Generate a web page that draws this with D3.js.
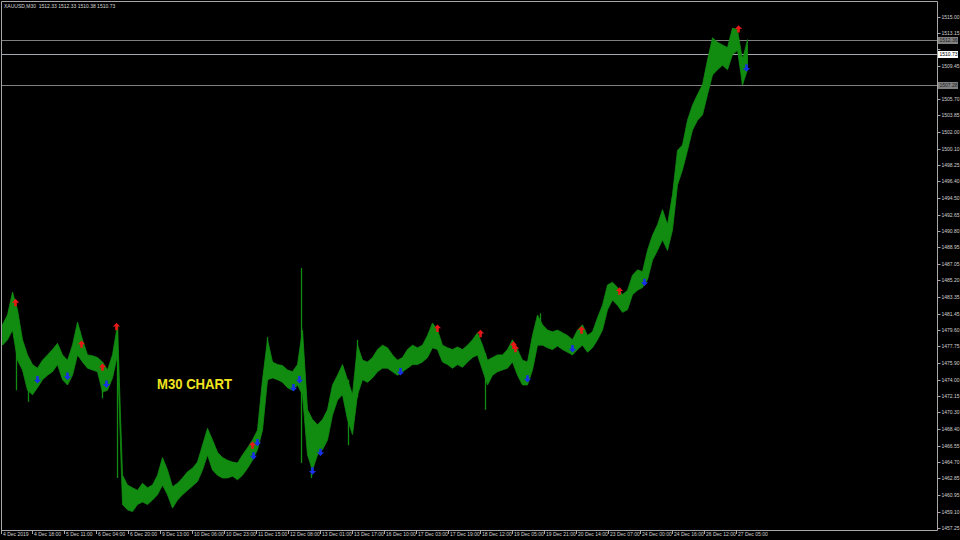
<!DOCTYPE html>
<html>
<head>
<meta charset="utf-8">
<script src="https://cdn.jsdelivr.net/npm/d3@7"></script>
<style>
  html, body { margin: 0; padding: 0; background: #000; }
  svg { display: block; }
</style>
</head>
<body>
<svg id="chart" width="960" height="540"></svg>
<script>
// price band, one sample every 5 bars (M30, 1 px per bar)
const highs = [
  1480.2,1481.3,1483.9,1481.9,1478.5,1476.8,1475.7,1475.3,1476.2,1476.8,
  1477.4,1478.1,1476.8,1476.2,1477.9,1480.5,1478.5,1476.8,1476.7,1476.5,
  1476.0,1475.1,1476.8,1480.2,1463.2,1462.1,1461.8,1461.5,1462.3,1461.8,
  1462.1,1463.2,1465.2,1463.8,1461.9,1462.3,1462.9,1463.6,1464.0,1464.7,
  1466.6,1468.5,1467.2,1465.8,1465.2,1464.9,1464.7,1464.6,1465.5,1466.3,
  1467.2,1468.3,1474.0,1478.5,1476.0,1475.7,1475.6,1475.1,1474.9,1475.7,
  1479.6,1470.6,1469.5,1468.9,1469.5,1470.6,1473.4,1474.5,1475.7,1474.0,
  1472.3,1477.9,1476.2,1476.0,1476.5,1477.4,1477.9,1477.6,1476.8,1476.2,
  1476.5,1477.4,1477.9,1477.6,1477.9,1479.0,1480.4,1479.6,1477.9,1477.6,
  1477.4,1477.7,1477.4,1477.9,1478.5,1479.3,1477.9,1476.2,1476.5,1476.8,
  1476.8,1477.4,1478.5,1477.4,1476.2,1476.0,1479.0,1481.3,1480.2,1479.6,
  1479.4,1479.6,1479.3,1479.0,1478.5,1479.6,1480.2,1479.0,1479.4,1481.0,
  1482.4,1484.7,1485.0,1484.4,1483.6,1484.1,1485.8,1486.4,1486.2,1488.6,
  1490.3,1491.5,1493.2,1491.5,1494.9,1499.9,1500.5,1503.3,1505.0,1506.2,
  1507.3,1510.1,1512.6,1512.1,1511.8,1511.5,1513.7,1513.5,1510.1,1512.4
];
const lows = [
  1477.9,1478.5,1479.6,1476.2,1475.1,1472.8,1472.3,1473.1,1474.0,1474.5,
  1474.9,1475.7,1474.0,1473.4,1474.5,1476.8,1476.0,1475.3,1475.1,1474.9,
  1472.6,1472.8,1474.2,1476.8,1459.9,1459.3,1459.1,1459.9,1460.2,1459.9,
  1460.4,1461.0,1462.1,1461.0,1459.5,1460.4,1461.0,1461.5,1462.0,1462.5,
  1463.8,1465.5,1463.8,1463.2,1462.9,1462.9,1463.1,1462.7,1463.2,1464.0,
  1464.9,1466.1,1468.3,1474.0,1474.2,1474.0,1473.7,1473.1,1472.8,1473.4,
  1472.3,1465.5,1463.8,1465.5,1466.1,1467.2,1470.0,1471.7,1472.3,1469.5,
  1467.8,1472.3,1474.0,1473.7,1474.2,1474.9,1475.3,1475.3,1474.9,1474.5,
  1474.9,1475.3,1475.7,1475.7,1476.0,1476.5,1477.6,1477.4,1476.0,1475.7,
  1475.3,1475.7,1475.4,1476.0,1476.5,1476.8,1475.1,1473.4,1474.5,1474.9,
  1475.1,1475.3,1476.0,1474.5,1473.4,1473.4,1475.1,1477.9,1477.9,1477.6,
  1477.4,1477.8,1477.4,1477.1,1476.8,1477.4,1477.9,1477.1,1477.6,1478.5,
  1479.6,1481.9,1483.0,1482.4,1481.6,1481.9,1483.6,1484.1,1484.4,1485.3,
  1487.5,1488.6,1489.8,1488.6,1490.9,1496.0,1497.7,1499.9,1502.2,1503.3,
  1503.9,1506.2,1508.4,1509.0,1509.5,1509.0,1510.7,1511.2,1507.3,1509.0
];
const sampleStep = 5;

// single long bars: [bar, high, low]
const wicks = [
  [14, 1481.9, 1472.8], [26, 1475.0, 1471.5], [100, 1476.0, 1471.9],
  [115, 1480.1, 1462.9], [265, 1478.8, 1474.0], [299, 1486.6, 1464.6],
  [309, 1468.0, 1462.9], [346, 1474.0, 1466.6], [355, 1478.5, 1472.0],
  [483, 1477.0, 1470.6], [538, 1481.5, 1478.0], [740, 1510.5, 1507.3]
];

// fractals: [bar, price]
const upFractals = [
  [13, 1482.7], [79, 1478.0], [100, 1475.4], [114, 1480.0], [250, 1466.6],
  [435, 1479.8], [478, 1479.2], [511, 1477.9], [513, 1477.5], [579, 1479.6],
  [617, 1484.0], [736, 1513.6]
];
const downFractals = [
  [35, 1474.0], [65, 1474.4], [104, 1473.5], [251, 1465.4], [255, 1466.9],
  [291, 1473.1], [297, 1474.0], [310, 1463.7], [318, 1465.8], [398, 1474.9],
  [525, 1474.1], [570, 1477.5], [642, 1485.0], [744, 1509.2]
];

// horizontal lines
const levels = [
  { price: 1512.36, label: "1512.36", bg: "#808080", fg: "#202020", line: "#808080" },
  { price: 1510.73, label: "1510.73", bg: "#ffffff", fg: "#000000", line: "#a0a8b0" },
  { price: 1507.28, label: "1507.28", bg: "#808080", fg: "#202020", line: "#808080" }
];

const priceTicks = [
  "1515.00","1513.15","1511.30","1509.45","1507.60","1505.70","1503.85","1502.00",
  "1500.10","1498.25","1496.40","1494.50","1492.65","1490.80","1488.95","1487.05",
  "1485.20","1483.35","1481.45","1479.60","1477.75","1475.90","1474.00","1472.15",
  "1470.30","1468.40","1466.55","1464.70","1462.85","1460.95","1459.10","1457.25"
];
const timeTicks = [
  "4 Dec 2019","4 Dec 18:00","5 Dec 11:00","6 Dec 04:00","6 Dec 20:00","9 Dec 13:00",
  "10 Dec 06:00","10 Dec 23:00","11 Dec 15:00","12 Dec 08:00","13 Dec 01:00","13 Dec 17:00",
  "16 Dec 10:00","17 Dec 03:00","17 Dec 19:00","18 Dec 12:00","19 Dec 05:00","19 Dec 21:00",
  "20 Dec 14:00","23 Dec 07:00","24 Dec 00:00","24 Dec 16:00","26 Dec 12:00","27 Dec 05:00"
];
const barsPerLabel = 32;
const header = "XAUUSD,M30  1512.33 1512.33 1510.38 1510.73";

const svg = d3.select('#chart');
const plotL = 2, plotR = 937.5, plotT = 1, plotB = 530;

const x = d3.scaleLinear().domain([0, 935]).range([plotL, plotL + 935]);
const y = d3.scaleLinear().domain([1457.25, 1515.00]).range([528, 16.6]);

svg.append('rect').attr('width', 960).attr('height', 540).attr('fill', '#000');

// level lines
svg.append('g').selectAll('line').data(levels).join('line')
  .attr('x1', plotL).attr('x2', plotR)
  .attr('y1', d => Math.round(y(d.price)) + 0.5)
  .attr('y2', d => Math.round(y(d.price)) + 0.5)
  .attr('stroke', d => d.line).attr('stroke-width', 1);

// price band
const band = highs.map((h, i) => ({ bar: i * sampleStep, hi: h, lo: lows[i] }));
const area = d3.area()
  .x(d => x(d.bar) + 0.5)
  .y0(d => y(d.lo))
  .y1(d => y(d.hi));
svg.append('path').datum(band)
  .attr('d', area)
  .attr('fill', '#118c11')
  .attr('stroke', '#118c11')
  .attr('stroke-width', 0.8);

svg.append('g').selectAll('line').data(wicks).join('line')
  .attr('x1', d => x(d[0]) + 0.5).attr('x2', d => x(d[0]) + 0.5)
  .attr('y1', d => y(d[1])).attr('y2', d => y(d[2]))
  .attr('stroke', '#118c11').attr('stroke-width', 1.3);

// fractal arrows
const upArrow = 'M0,-3.8 L3.6,0 L1.3,0 L1.3,3.6 L-1.3,3.6 L-1.3,0 L-3.6,0 Z';
const downArrow = 'M0,3.8 L3.6,0 L1.3,0 L1.3,-3.6 L-1.3,-3.6 L-1.3,0 L-3.6,0 Z';
svg.append('g').selectAll('path').data(upFractals).join('path')
  .attr('d', upArrow)
  .attr('transform', d => `translate(${x(d[0]) + 0.5},${y(d[1])})`)
  .attr('fill', '#e81818');
svg.append('g').selectAll('path').data(downFractals).join('path')
  .attr('d', downArrow)
  .attr('transform', d => `translate(${x(d[0]) + 0.5},${y(d[1])})`)
  .attr('fill', '#1830e8');

// frame
svg.append('path')
  .attr('d', `M${plotL - 0.5},${plotB + 0.5} V${plotT + 0.5} H${plotR} V${plotB + 0.5} Z`)
  .attr('fill', 'none').attr('stroke', '#a8a8a8').attr('stroke-width', 1);

// price axis (labels under a level box are hidden, as in the terminal)
const pa = svg.append('g').attr('font-family', 'Liberation Sans, Arial, sans-serif')
  .attr('font-size', 5).attr('fill', '#d0d0d0');
priceTicks.forEach(t => {
  const yy = Math.round(y(+t)) + 0.5;
  pa.append('line').attr('x1', plotR).attr('x2', plotR + 3)
    .attr('y1', yy).attr('y2', yy).attr('stroke', '#a8a8a8');
  const covered = levels.some(d => Math.abs(y(d.price) - yy) < 5);
  if (!covered) pa.append('text').attr('x', plotR + 4).attr('y', yy + 1.8).text(t);
});
levels.forEach(d => {
  const yy = Math.round(y(d.price)) + 0.5;
  pa.append('rect').attr('x', plotR + 0.5).attr('y', yy - 3.5)
    .attr('width', 20).attr('height', 7).attr('fill', d.bg);
  pa.append('text').attr('x', plotR + 2).attr('y', yy + 1.8)
    .attr('fill', d.fg).text(d.label);
});

// time axis
const ta = svg.append('g').attr('font-family', 'Liberation Sans, Arial, sans-serif')
  .attr('font-size', 5).attr('fill', '#d0d0d0');
timeTicks.forEach((t, i) => {
  const bar = i === 0 ? 0 : i * barsPerLabel - 1;
  const xx = Math.round(x(bar)) - 0.5;
  ta.append('line').attr('x1', xx).attr('x2', xx)
    .attr('y1', plotB).attr('y2', plotB + 4).attr('stroke', '#a8a8a8');
  ta.append('text').attr('x', xx + 1.5).attr('y', plotB + 6).text(t);
});

// header and caption
svg.append('text').attr('x', 4).attr('y', 7.5)
  .attr('font-family', 'Liberation Sans, Arial, sans-serif')
  .attr('font-size', 5).attr('fill', '#d8d8d8')
  .attr('xml:space', 'preserve').text(header);

svg.append('text').attr('x', 157).attr('y', 389)
  .attr('font-family', 'Liberation Sans, Arial, sans-serif')
  .attr('font-size', 15).attr('font-weight', 'bold')
  .attr('fill', '#f2e51e')
  .attr('textLength', 75).attr('lengthAdjust', 'spacingAndGlyphs')
  .text('M30 CHART');
</script>
</body>
</html>
